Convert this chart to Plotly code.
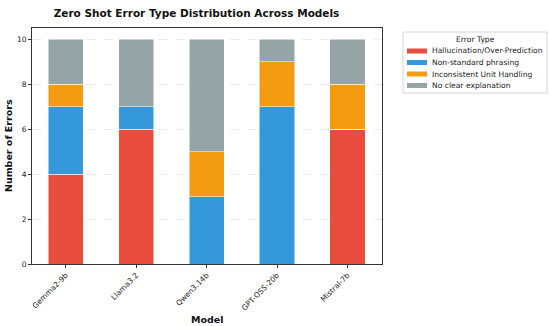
import plotly.graph_objects as go

models = ["Gemma2-9b", "Llama3.2", "Qwen3.14b", "GPT-OSS-20b", "Mistral-7b"]
hallucination = [4, 6, 0, 0, 6]
non_standard = [3, 1, 3, 7, 0]
inconsistent = [1, 0, 2, 2, 2]
no_clear = [2, 3, 5, 1, 2]

series = [
    ("Hallucination/Over-Prediction", hallucination, "#e74c3c"),
    ("Non-standard phrasing", non_standard, "#3498db"),
    ("Inconsistent Unit Handling", inconsistent, "#f39c12"),
    ("No clear explanation", no_clear, "#95a5a6"),
]

font = "DejaVu Sans"
W, H = 550, 326
L, R, T, B = 32, 382, 28, 264  # plot area in pixels


def px_x(p):
    return (p - L) / (R - L)


def px_y(p):
    return (B - p) / (B - T)


fig = go.Figure()
for name, vals, color in series:
    fig.add_trace(go.Bar(
        x=list(range(len(models))), y=vals, name=name,
        marker=dict(color=color, line=dict(color="white", width=0.5)),
        width=0.5, showlegend=False,
    ))

# custom compact legend
shapes = [dict(type="rect", xref="paper", yref="paper",
               x0=px_x(403), x1=px_x(547), y0=px_y(93), y1=px_y(32),
               line=dict(color="#d6d6d6", width=1), fillcolor="white", layer="above")]
annotations = [dict(text="Error Type", xref="paper", yref="paper",
                    x=px_x(475), y=px_y(39.5), xanchor="center", yanchor="middle",
                    showarrow=False, font=dict(size=7.6, family=font, color="#222"))]
for i, (name, vals, color) in enumerate(series):
    cy = 51 + i * 11.5
    shapes.append(dict(type="rect", xref="paper", yref="paper",
                       x0=px_x(407), x1=px_x(427), y0=px_y(cy + 2.5), y1=px_y(cy - 2.5),
                       line=dict(width=0), fillcolor=color, layer="above"))
    annotations.append(dict(text=name, xref="paper", yref="paper",
                            x=px_x(430), y=px_y(cy), xanchor="left", yanchor="middle",
                            showarrow=False, font=dict(size=7.6, family=font, color="#222")))

# axis titles
annotations.append(dict(text="<b>Model</b>", xref="paper", yref="paper",
                        x=0.5, y=px_y(319), xanchor="center", yanchor="middle",
                        showarrow=False, font=dict(size=9.5, family=font, color="#111")))
annotations.append(dict(text="<b>Number of Errors</b>", xref="paper", yref="paper",
                        x=px_x(8), y=0.5, xanchor="center", yanchor="middle", textangle=-90,
                        showarrow=False, font=dict(size=9.5, family=font, color="#111")))

fig.update_layout(
    barmode="stack",
    width=W, height=H,
    margin=dict(l=L, r=W - R, t=T, b=H - B, autoexpand=False),
    paper_bgcolor="white", plot_bgcolor="white",
    font=dict(family=font, size=8, color="#222"),
    title=dict(text="<b>Zero Shot Error Type Distribution Across Models</b>",
               x=196.5 / W, xanchor="center", xref="container",
               y=1 - 13 / H, yref="container", yanchor="middle",
               font=dict(size=10.5, family=font, color="#111")),
    showlegend=False,
    shapes=shapes,
    annotations=annotations,
)
fig.update_xaxes(
    tickmode="array", tickvals=list(range(len(models))), ticktext=models,
    tickangle=-45, range=[-0.48, 4.49], automargin=False,
    showline=True, linecolor="#333", linewidth=1, mirror=True,
    ticks="outside", ticklen=3, tickcolor="#333",
    tickfont=dict(size=7.5),
    showgrid=False,
)
fig.update_yaxes(
    range=[0, 10.5], tickvals=[0, 2, 4, 6, 8, 10], automargin=False,
    showline=True, linecolor="#333", linewidth=1, mirror=True,
    ticks="outside", ticklen=3, tickcolor="#333",
    tickfont=dict(size=7.5),
    showgrid=True, gridcolor="#ececec", griddash="dash", gridwidth=0.6,
    zeroline=False,
)
fig.write_html("out.html", config={"displayModeBar": False},
               post_script="document.body.style.margin='0';document.body.style.padding='0';")
